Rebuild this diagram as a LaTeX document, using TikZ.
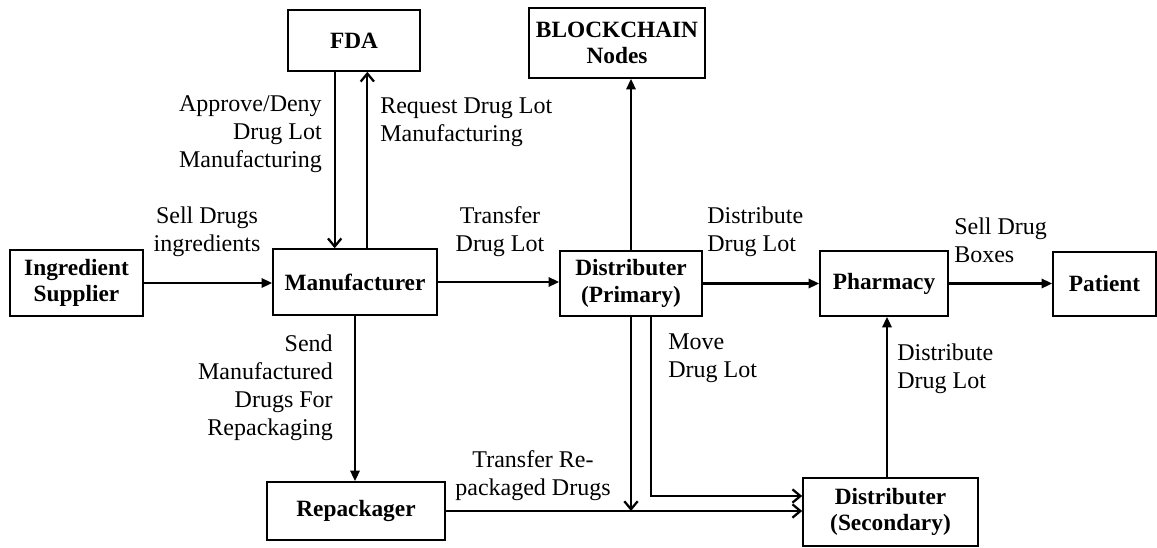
\documentclass[tikz,border=0pt]{standalone}
\usepackage{fontspec}
\setmainfont{Liberation Serif}
\usetikzlibrary{arrows.meta}

\tikzset{
  box/.style={draw, line width=1.2pt, align=center, font=\fontsize{17.5}{20}\selectfont\bfseries, inner sep=2pt},
  lbl/.style={font=\fontsize{18}{21}\selectfont, inner sep=0pt},
  flow/.style={line width=1.7pt, -{Triangle[length=8pt,width=7pt]}},
  vflow/.style={line width=1.7pt, -{Straight Barb[length=6pt,width=10pt,line width=1.7pt]}}
}

\begin{document}
\begin{tikzpicture}[x=0.75pt, y=-0.75pt]
    \useasboundingbox (0,0) rectangle (1157,547);

    % boxes
    \node[box, minimum width=99.75pt, minimum height=49.5pt] (supplier) at (76.5,283) {Ingredient\\Supplier};
    \node[box, minimum width=123pt, minimum height=49.5pt] (manuf) at (355,282) {Manufacturer};
    \node[box, minimum width=99pt, minimum height=45.75pt] (fda) at (354,40.5) {FDA};
    \node[box, minimum width=132pt, minimum height=52.5pt] (chain) at (617,43) {BLOCKCHAIN\\Nodes};
    \node[box, minimum width=106.5pt, minimum height=48.75pt] (primary) at (631,283.5) {Distributer\\(Primary)};
    \node[box, minimum width=96pt, minimum height=48.75pt] (pharmacy) at (884,283.5) {Pharmacy};
    \node[box, minimum width=77.25pt, minimum height=48pt] (patient) at (1104.5,284) {Patient};
    \node[box, minimum width=131.25pt, minimum height=51pt] (secondary) at (890.5,512) {Distributer\\(Secondary)};
    \node[box, minimum width=133.5pt, minimum height=43.5pt] (repack) at (356,511) {Repackager};

    \coordinate (join) at (primary.south |- repack.east);

    % connectors
    \draw[flow] (supplier.east) -- (supplier.east -| manuf.west);
    \draw[vflow] ([xshift=-14.5pt]fda.south) -- ([xshift=-14.5pt]fda.south |- manuf.north);
    \draw[vflow] ([xshift=10pt]manuf.north -| fda.south) -- ([xshift=10pt]fda.south);
    \draw[flow] (manuf.east) -- (manuf.east -| primary.west);
    \draw[flow] (primary.north) -- (primary.north |- chain.south);
    \draw[flow] (primary.east) -- (primary.east -| pharmacy.west);
    \draw[flow] (pharmacy.east) -- (pharmacy.east -| patient.west);
    \draw[flow] (manuf.south) -- (manuf.south |- repack.north);
    \draw[vflow] (repack.east) -- (repack.east -| secondary.west);
    \draw[vflow] (primary.south) -- (join);
    \draw[vflow] ([xshift=15pt]primary.south) |- ([yshift=12pt]secondary.west);
    \draw[flow] (secondary.north -| 887,0) -- (pharmacy.south -| 887,0);

    % labels
    \node[lbl, align=center] (lsell) at (207,232) {Sell Drugs\\ingredients};
    \node[lbl, align=right, anchor=east] (lapprove) at (322,134) {Approve/Deny\\Drug Lot\\Manufacturing};
    \node[lbl, align=left, anchor=west] (lrequest) at (380,122) {Request Drug Lot\\Manufacturing};
    \node[lbl, align=center] (ltransfer) at (500,232) {Transfer\\Drug Lot};
    \node[lbl, align=left, anchor=west] (ldistone) at (707,232) {Distribute\\Drug Lot};
    \node[lbl, align=left, anchor=west] (lboxes) at (954,240) {Sell Drug\\Boxes};
    \node[lbl, align=right, anchor=east] (lsend) at (333,388) {Send\\Manufactured\\Drugs For\\Repackaging};
    \node[lbl, align=left, anchor=west] (lmove) at (668,358) {Move\\Drug Lot};
    \node[lbl, align=left, anchor=west] (ldisttwo) at (897,369) {Distribute\\Drug Lot};
    \node[lbl, align=center] (lrepack) at (533,476) {Transfer Re-\\packaged Drugs};

\end{tikzpicture}
\end{document}
